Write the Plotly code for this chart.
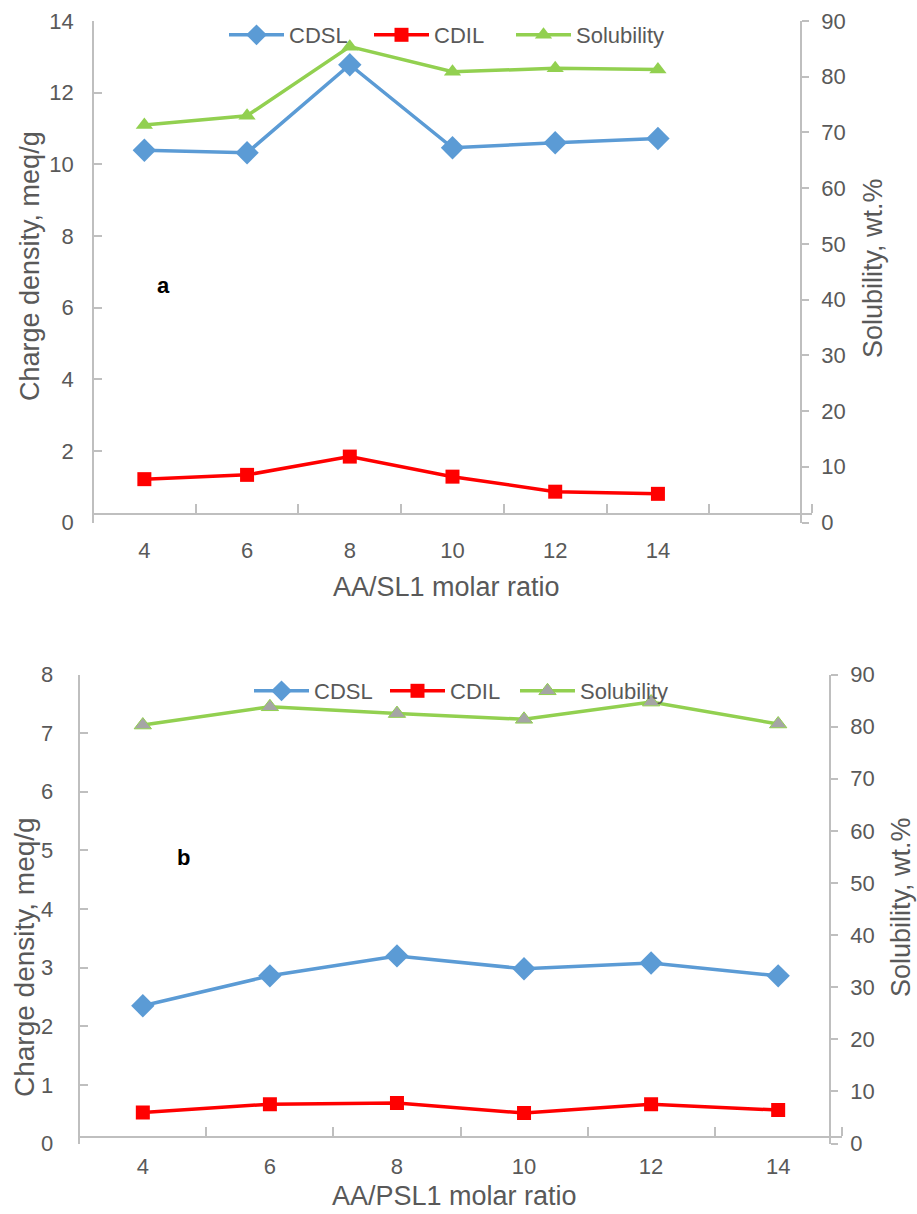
import plotly.graph_objects as go

# ---------------- data ----------------
ratios = [4, 6, 8, 10, 12, 14]
tick_labels = ["4", "6", "8", "10", "12", "14"]

cdsl_a = [10.39, 10.32, 12.78, 10.46, 10.60, 10.72]
cdil_a = [1.21, 1.33, 1.84, 1.28, 0.86, 0.80]
sol_a = [71.35, 73.0, 85.4, 80.9, 81.5, 81.3]

cdsl_b = [2.35, 2.86, 3.20, 2.98, 3.08, 2.86]
cdil_b = [0.53, 0.67, 0.69, 0.52, 0.67, 0.57]
sol_b = [80.3, 83.8, 82.5, 81.4, 84.7, 80.5]

series_names = ["CDSL", "CDIL", "Solubility"]
x_title_a = "AA/SL1 molar ratio"
x_title_b = "AA/PSL1 molar ratio"
y_title_left = "Charge density, meq/g"
y_title_right = "Solubility, wt.%"

# ---------------- style ----------------
W, H = 917, 1214
BLUE = "#5B9BD5"
RED = "#FF0000"
GREEN = "#92D050"
GRAY_MK = "#A5A5A5"
AXC = "#BFBFBF"
TXT = "#595959"
FONT = "Liberation Sans, Arial, sans-serif"


def px(x):
    return x / W


def py(y):
    return 1 - y / H


fig = go.Figure()

# ---- chart a ----
fig.add_trace(go.Scatter(x=ratios, y=cdsl_a, name=series_names[0], mode="lines+markers",
                         line=dict(color=BLUE, width=3.5),
                         marker=dict(symbol="diamond", size=18, color=BLUE),
                         xaxis="x", yaxis="y", legend="legend"))
fig.add_trace(go.Scatter(x=ratios, y=cdil_a, name=series_names[1], mode="lines+markers",
                         line=dict(color=RED, width=3.5),
                         marker=dict(symbol="square", size=14, color=RED),
                         xaxis="x", yaxis="y", legend="legend2"))
fig.add_trace(go.Scatter(x=ratios, y=sol_a, name=series_names[2], mode="lines+markers",
                         line=dict(color=GREEN, width=3.5),
                         marker=dict(symbol="triangle-up", size=15, color=GREEN),
                         xaxis="x", yaxis="y2", legend="legend3"))

# ---- chart b ----
fig.add_trace(go.Scatter(x=ratios, y=cdsl_b, name=series_names[0], mode="lines+markers",
                         line=dict(color=BLUE, width=3.5),
                         marker=dict(symbol="diamond", size=18, color=BLUE),
                         xaxis="x3", yaxis="y3", legend="legend4"))
fig.add_trace(go.Scatter(x=ratios, y=cdil_b, name=series_names[1], mode="lines+markers",
                         line=dict(color=RED, width=3.5),
                         marker=dict(symbol="square", size=14, color=RED),
                         xaxis="x3", yaxis="y3", legend="legend5"))
fig.add_trace(go.Scatter(x=ratios, y=sol_b, name=series_names[2], mode="lines+markers",
                         line=dict(color=GREEN, width=3.5),
                         marker=dict(symbol="triangle-up", size=15, color=GRAY_MK,
                                     line=dict(color=GREEN, width=1)),
                         xaxis="x3", yaxis="y4", legend="legend6"))

tickfont = dict(family=FONT, size=22, color=TXT)

# geometry (pixels)
a_left, a_right, a_yaxis_r = 93, 812, 801
a_top, a_bot, a_xline = 21, 522.5, 514
b_left, b_right, b_yaxis_r = 79.3, 841.7, 830
b_top, b_bot, b_xline = 674.5, 1143.5, 1136.7


def xaxis_cfg(dom, pos, rng, minor_vals, standoff):
    return dict(domain=dom, anchor="free", position=pos, range=rng, automargin=False,
                tickmode="array", tickvals=ratios, ticktext=tick_labels, ticks="",
                showline=True, linecolor=AXC, linewidth=1.5, showgrid=False, zeroline=False,
                tickfont=tickfont, ticklabelstandoff=standoff,
                minor=dict(tickmode="array", tickvals=minor_vals, ticks="inside",
                           ticklen=9, tickcolor=AXC, tickwidth=1.5, showgrid=False))


def yaxis_cfg(dom, pos, rng, dtick, side, standoff, overlay=None):
    d = dict(domain=dom, anchor="free", position=pos, range=rng, dtick=dtick, automargin=False,
             ticks="inside" if side == "left" else "outside",
             ticklen=8 if side == "left" else 7, tickcolor=AXC, tickwidth=1.5,
             showline=True, linecolor=AXC, linewidth=1.5, showgrid=False, zeroline=False,
             tickfont=tickfont, ticklabelstandoff=standoff, side=side)
    if overlay:
        d["overlaying"] = overlay
    return d


def legend_cfg(line_start_x, center_y):
    return dict(orientation="h", x=px(line_start_x - 9), y=py(center_y),
                xanchor="left", yanchor="middle",
                font=dict(family=FONT, size=22, color=TXT), bgcolor="rgba(0,0,0,0)",
                itemwidth=55)


fig.update_layout(
    width=W, height=H, margin=dict(l=0, r=0, t=0, b=0, autoexpand=False),
    paper_bgcolor="white", plot_bgcolor="rgba(0,0,0,0)",
    showlegend=True,
    xaxis=xaxis_cfg([px(a_left), px(a_right)], py(a_xline), [3, 17],
                    [3, 5, 7, 9, 11, 13, 15, 17], 17),
    yaxis=yaxis_cfg([py(a_bot), py(a_top)], px(a_left), [0, 14], 2, "left", 14),
    yaxis2=yaxis_cfg([py(a_bot), py(a_top)], px(a_yaxis_r), [0, 90], 10, "right", 8, "y"),
    xaxis3=xaxis_cfg([px(b_left), px(b_right)], py(b_xline), [3, 15],
                     [3, 5, 7, 9, 11, 13, 15], 10),
    yaxis3=yaxis_cfg([py(b_bot), py(b_top)], px(b_left), [0, 8], 1, "left", 21),
    yaxis4=yaxis_cfg([py(b_bot), py(b_top)], px(b_yaxis_r), [0, 90], 10, "right", 8, "y3"),
    legend=legend_cfg(233, 35),
    legend2=legend_cfg(378, 35),
    legend3=legend_cfg(520, 35),
    legend4=legend_cfg(258, 691),
    legend5=legend_cfg(394, 691),
    legend6=legend_cfg(524, 691),
)

ann_font = dict(family=FONT, size=27, color=TXT)
annotations = [
    dict(text=x_title_a, x=px(446), y=py(587), font=ann_font),
    dict(text=y_title_left, x=px(30), y=py(266), textangle=-90, font=ann_font),
    dict(text=y_title_right, x=px(873), y=py(268), textangle=-90, font=ann_font),
    dict(text=x_title_b, x=px(454), y=py(1196), font=ann_font),
    dict(text=y_title_left, x=px(24), y=py(957), textangle=-90,
         font=dict(family=FONT, size=28, color=TXT)),
    dict(text=y_title_right, x=px(901), y=py(907), textangle=-90, font=ann_font),
    dict(text="<b>a</b>", x=px(163), y=py(286), font=dict(family=FONT, size=22, color="black")),
    dict(text="<b>b</b>", x=px(183), y=py(857), font=dict(family=FONT, size=22, color="black")),
]
for a in annotations:
    a.update(xref="paper", yref="paper", showarrow=False, xanchor="center", yanchor="middle")
fig.update_layout(annotations=annotations)

fig.write_html("out.html")
